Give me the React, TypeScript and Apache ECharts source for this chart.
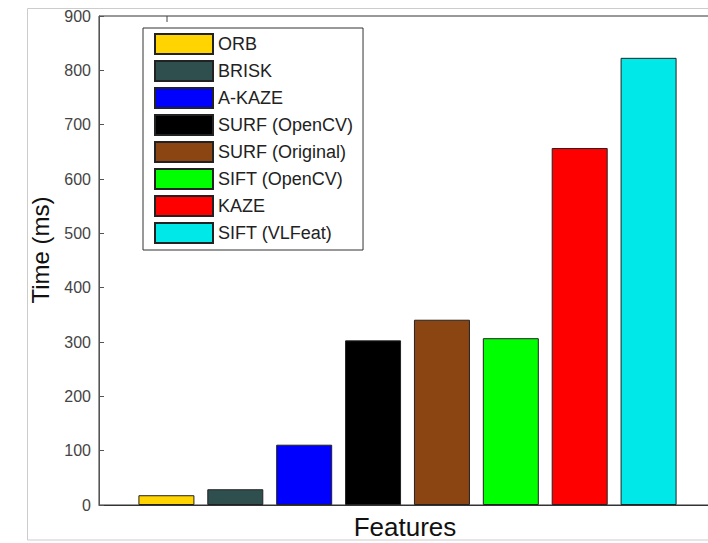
import React, { useEffect, useRef } from "react";
import * as echarts from "echarts";

const categories = ["Features"];
const seriesNames = [
  "ORB",
  "BRISK",
  "A-KAZE",
  "SURF (OpenCV)",
  "SURF (Original)",
  "SIFT (OpenCV)",
  "KAZE",
  "SIFT (VLFeat)",
];
const seriesValues = [18, 29, 111, 303, 341, 307, 657, 823];
const seriesColors = [
  "#FFD400",
  "#2F4F4F",
  "#0000FF",
  "#000000",
  "#8B4513",
  "#00FF00",
  "#FF0000",
  "#00E8E8",
];
const yTicks = { min: 0, max: 900, interval: 100 };

const FONT = "'Liberation Sans', Arial, sans-serif";

export default function App() {
  const ref = useRef<HTMLDivElement>(null);
  useEffect(() => {
    if (!ref.current) return;
    const chart = echarts.init(ref.current, undefined, { renderer: "svg" });
    const series = seriesNames.map((name, i) => ({
      name,
      type: "bar",
      data: [seriesValues[i]],
      barWidth: 56,
      barGap: "23%",
      itemStyle: {
        color: seriesColors[i],
        borderColor: "#222",
        borderWidth: 1,
      },
    }));
    chart.setOption({
      animation: false,
      backgroundColor: "#fff",
      grid: {
        left: 99,
        top: 16,
        width: 617,
        height: 489,
        outerBoundsMode: "none",
        containLabel: false,
        show: true,
        borderColor: "#333",
        borderWidth: 1,
        backgroundColor: "transparent",
      },
      legend: {
        orient: "vertical",
        left: 143,
        top: 28,
        itemWidth: 58,
        itemHeight: 20,
        itemGap: 5,
        padding: [5, 10, 6, 11],
        borderColor: "#333",
        borderWidth: 1,
        backgroundColor: "#fff",
        icon: "rect",
        data: seriesNames,
        textStyle: { fontSize: 18, color: "#222", fontFamily: FONT },
      },
      xAxis: {
        type: "category",
        data: categories,
        name: "Features",
        nameLocation: "middle",
        nameGap: 9,
        nameTextStyle: {
          fontSize: 26,
          lineHeight: 26,
          color: "#111",
          fontFamily: FONT,
          verticalAlign: "top",
          padding: [0, 5, 0, 0],
        },
        axisLine: { show: true, lineStyle: { color: "#333", width: 1 } },
        axisTick: { show: false },
        axisLabel: { show: false },
        splitLine: { show: false },
      },
      yAxis: {
        type: "value",
        min: yTicks.min,
        max: yTicks.max,
        interval: yTicks.interval,
        name: "Time (ms)",
        nameLocation: "middle",
        nameGap: 47,
        nameRotate: 90,
        nameTextStyle: { fontSize: 24, color: "#111", fontFamily: FONT, padding: [0, 0, 0, 21] },
        axisLine: { show: true, lineStyle: { color: "#555", width: 1 } },
        axisTick: { show: true, inside: true, length: 5, lineStyle: { color: "#555" } },
        axisLabel: { fontSize: 16, color: "#444", fontFamily: FONT, margin: 8 },
        splitLine: { show: false },
      },
      graphic: [
        {
          type: "rect",
          shape: { x: 27.5, y: 8.5, width: 720, height: 531.5 },
          style: { fill: "none", stroke: "#cccccc", lineWidth: 1 },
          silent: true,
          z: -10,
        },
        {
          type: "line",
          shape: { x1: 167, y1: 16, x2: 167, y2: 22 },
          style: { stroke: "#444", lineWidth: 1 },
          silent: true,
        },
      ],
      series,
    });
    return () => chart.dispose();
  }, []);
  return (
    <div
      style={{
        position: "absolute",
        left: 0,
        top: 0,
        width: 708,
        height: 543,
        overflow: "hidden",
        background: "#fff",
      }}
    >
      <div ref={ref} style={{ width: 730, height: 543 }} />
    </div>
  );
}
